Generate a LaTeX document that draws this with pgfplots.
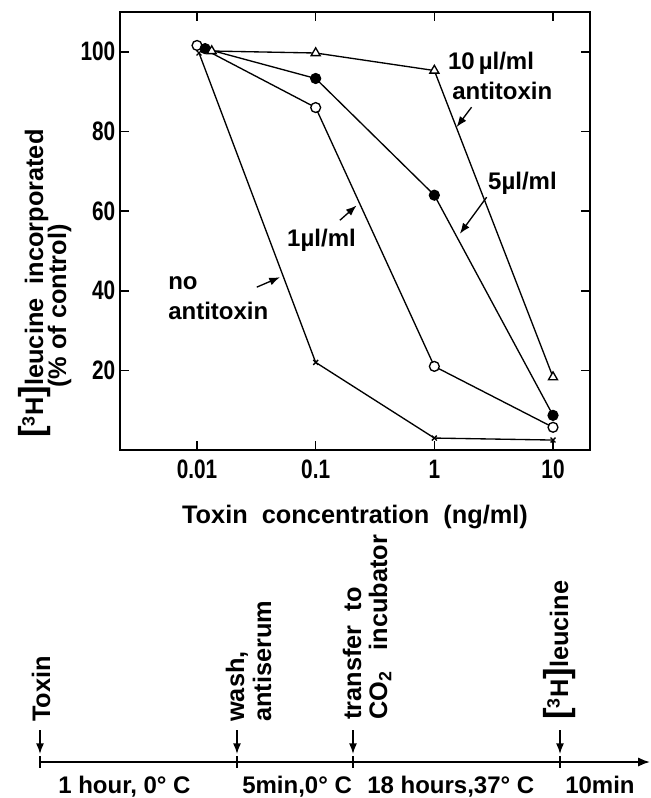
\documentclass[border=0pt]{standalone}
\usepackage{pgfplots}
\pgfplotsset{compat=1.18}
\usetikzlibrary{arrows.meta}
\usepackage{fontspec}
\setmainfont{Liberation Sans}
\newfontfamily\condfont{Liberation Sans}[FakeStretch=0.78]
\newcommand{\tf}{\condfont\bfseries\fontsize{20}{20}\selectfont}
\newcommand{\lf}{\bfseries\fontsize{18}{18}\selectfont}
\newcommand{\lgf}{\bfseries\fontsize{19}{19}\selectfont}
\newcommand{\bigbr}[1]{{\fontsize{26}{26}\selectfont #1}}
\begin{document}
\begin{tikzpicture}
\path[use as bounding box] (0,0) rectangle (487.5pt,-598.5pt);
\begin{axis}[at={(90pt,-337.5pt)}, anchor=south west, scale only axis,
  width=352.5pt, height=328.5pt,
  xmode=log, xmin=0.002244, xmax=20.5, ymin=0, ymax=110,
  xtick={0.01,0.1,1,10}, xticklabels={0.01,0.1,1,10}, xminorticks=false,
  ytick={20,40,60,80,100}, yticklabels={20,40,60,80,100},
  tick align=inside, major tick length=7pt,
  tick style={line width=1.2pt, black},
  axis line style={line width=1.4pt},
  ticklabel style={font=\tf},
  xticklabel style={yshift=-4pt},
  xlabel={Toxin\ \ concentration\ \ (ng/ml)},
  xlabel style={font=\lgf, at={(axis description cs:0.5,-0.153)}, anchor=center},
  clip=false]
\addplot[line width=1pt, mark=x, mark size=2.6pt] coordinates {(0.0104,99.7)(0.1,22)(1,3)(10,2.5)};
\addplot[line width=1pt, mark=*, mark size=3.7pt, mark options={fill=white}] coordinates {(0.01,101.6)(0.1,86)(1,21)(10,5.7)};
\addplot[line width=1pt, mark=*, mark size=3.7pt, mark options={fill=black}] coordinates {(0.0117,100.8)(0.1,93.3)(1,64)(10,8.7)};
\addplot[line width=1pt, mark=triangle*, mark size=3.9pt, mark options={fill=white}] coordinates {(0.0133,100.2)(0.1,99.7)(1,95.3)(10,18.3)};
% annotations
\node[font=\lf, anchor=west, inner sep=0] at (axis cs:1.30,97.1) {10\,µl/ml};
\node[font=\lf, anchor=west, inner sep=0] at (axis cs:1.41,90.3) {antitoxin};
\draw[-{Latex[length=8pt,width=6pt]}, line width=1pt] (axis cs:2.06,86.1) -- (axis cs:1.54,81.1);
\node[font=\lf, anchor=west, inner sep=0] at (axis cs:2.83,67) {5µl/ml};
\draw[-{Latex[length=8pt,width=6pt]}, line width=1pt] (axis cs:2.76,63.5) -- (axis cs:1.64,54.3);
\node[font=\lf, anchor=west, inner sep=0] at (axis cs:0.0573,52.6) {1µl/ml};
\draw[-{Latex[length=8pt,width=6pt]}, line width=1pt] (axis cs:0.160,57.7) -- (axis cs:0.221,61.4);
\node[font=\lf, anchor=west, inner sep=0] at (axis cs:0.0057,41.8) {no};
\node[font=\lf, anchor=west, inner sep=0] at (axis cs:0.0057,35.0) {antitoxin};
\draw[-{Latex[length=8pt,width=6pt]}, line width=1pt] (axis cs:0.0319,40.9) -- (axis cs:0.050,43.4);
\end{axis}
\begin{scope}[x=0.75pt,y=-0.75pt]
% y label
\node[rotate=90, anchor=base, font=\lgf, inner sep=0] at (43,283.5) {\bigbr{[}\textsuperscript{3}H\bigbr{]}leucine\ \ incorporated};
\node[rotate=90, anchor=base, font=\lgf, inner sep=0] at (66,306) {(\%\ of\ control)};
% timeline
\draw[line width=1.4pt, -{Latex[length=9pt,width=7pt]}] (40,762) -- (650,762);
\foreach \x in {40,237,353,560} {
  \draw[line width=1.2pt] (\x,756) -- (\x,768);
  \draw[line width=1.1pt, -{Latex[length=8pt,width=6pt]}] (\x,730) -- (\x,754);
}
\node[rotate=90, anchor=base west, font=\lgf, inner sep=0] at (50,722) {Toxin};
\node[rotate=90, anchor=base west, font=\lgf, inner sep=0] at (244,722) {wash,};
\node[rotate=90, anchor=base west, font=\lgf, inner sep=0] at (271,722) {antiserum};
\node[rotate=90, anchor=base west, font=\lgf, inner sep=0] at (361,720) {transfer\ \ to};
\node[rotate=90, anchor=base west, font=\lgf, inner sep=0] at (387,720) {CO\textsubscript{2}\ \ \ incubator};
\node[rotate=90, anchor=base west, font=\lgf, inner sep=0] at (568,720) {\bigbr{[}\textsuperscript{3}H\bigbr{]}leucine};
\node[anchor=base west, font=\lf, inner sep=0] at (58,793) {1 hour, 0° C};
\node[anchor=base west, font=\lf, inner sep=0] at (242,793) {5min,0° C};
\node[anchor=base west, font=\lf, inner sep=0] at (367,793) {18 hours,37° C};
\node[anchor=base west, font=\lf, inner sep=0] at (565,793) {10min};
\end{scope}
\end{tikzpicture}
\end{document}
